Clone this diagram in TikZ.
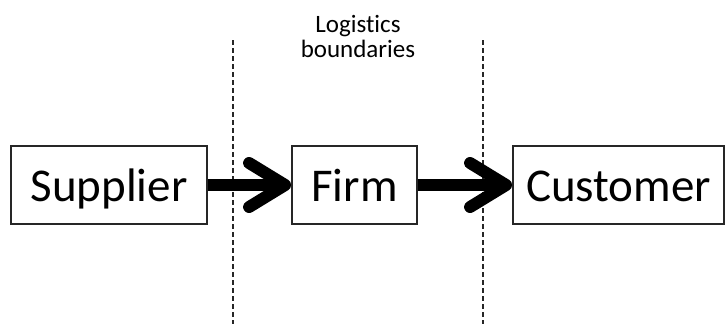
\documentclass[tikz,border=0pt]{standalone}
\usepackage{fontspec}
\setmainfont{Carlito}[Ligatures=NoCommon]
\usetikzlibrary{arrows.meta}
\begin{document}
\begin{tikzpicture}[x=1pt,y=-1pt,
  stage/.style={draw=black!85, line width=1.8pt, minimum height=78pt, inner sep=0pt,
    text height=34pt, text depth=2pt, font=\fontsize{47}{56}\selectfont},
  flow/.style={line width=12pt, -{Straight Barb[length=36pt,width=44pt,round]}},
  boundary/.style={draw=black!85, line width=1.7pt, dash pattern=on 5pt off 3pt}]
\useasboundingbox (0,0) rectangle (728,324);
% logistics boundaries
\coordinate (b1top) at (233,40);
\coordinate (b1bot) at (233,324);
\coordinate (b2top) at (483,40);
\coordinate (b2bot) at (483,324);
\draw[boundary] (b1top) -- (b1bot);
\draw[boundary] (b2top) -- (b2bot);
\node[font=\fontsize{25}{25}\selectfont, align=center] (lbl) at (358,36) {Logistics\\boundaries};
% supply chain stages
\node[stage, minimum width=196pt] (sup) at (109,185) {Supplier};
\node[stage, minimum width=125pt] (firm) at (354.5,185) {Firm};
\node[stage, minimum width=211pt] (cus) at (618.5,185) {Customer};
% material flow
\draw[flow] (sup.east) -- (firm.west);
\draw[flow] (firm.east) -- (cus.west);
\end{tikzpicture}
\end{document}
